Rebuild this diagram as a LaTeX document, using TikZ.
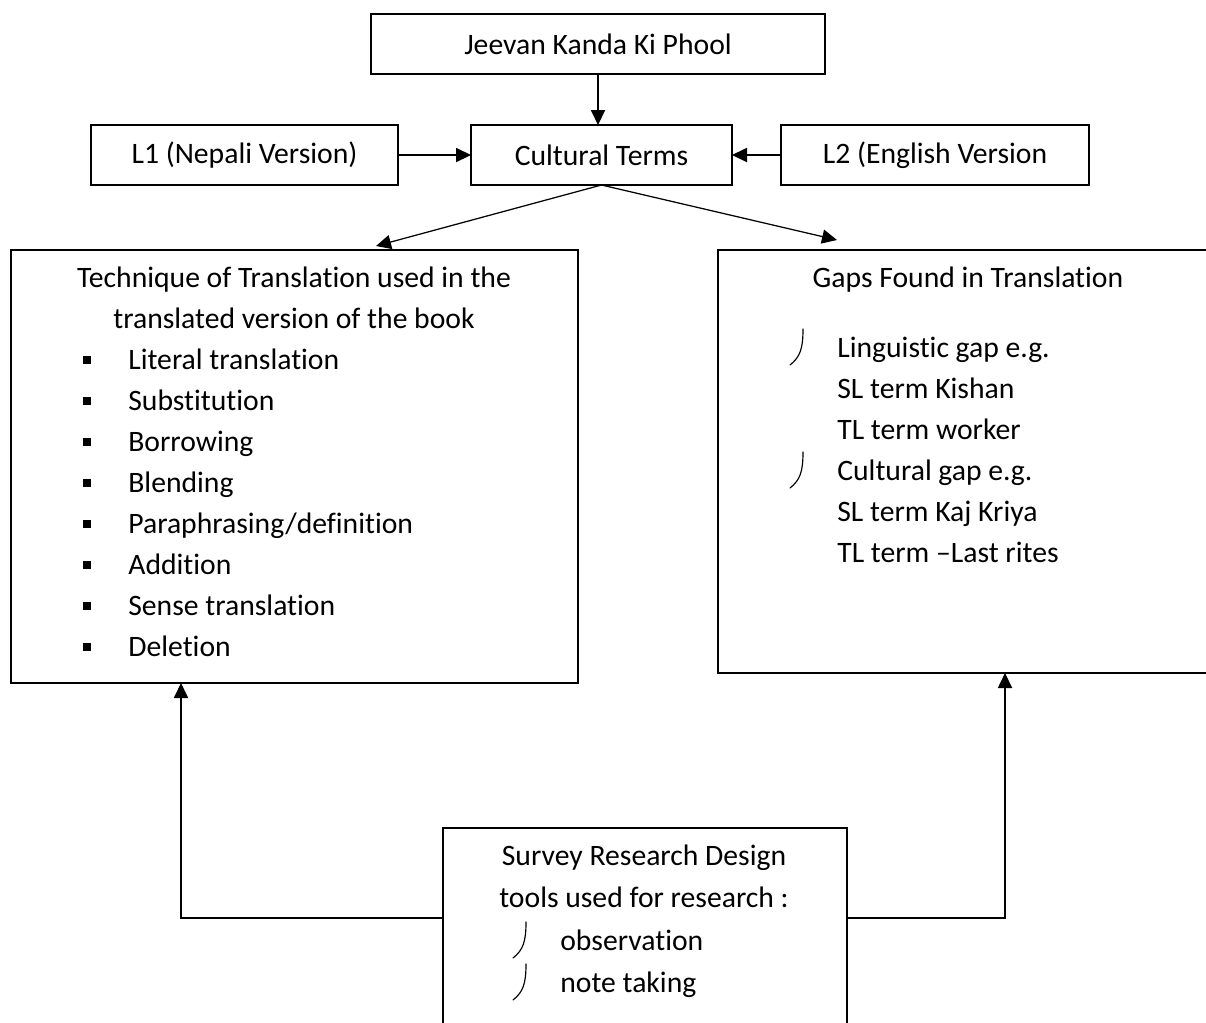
\documentclass[tikz,border=0pt]{standalone}
\usepackage{fontspec}
\setmainfont{Carlito}[Ligatures=NoCommon]
\usetikzlibrary{arrows.meta}
\newcommand\fs{\fontsize{17.8}{20}\selectfont}
\begin{document}
\begin{tikzpicture}[x=0.6pt,y=-0.6pt,
  box/.style={draw,line width=0.9pt,inner sep=0pt,outer sep=0pt,anchor=north west,font=\fs},
  arr/.style={-{Triangle[length=9pt,width=8.5pt]},line width=0.75pt},
  txt/.style={inner sep=0pt,anchor=base west,font=\fs},
  ctxt/.style={inner sep=0pt,anchor=base,font=\fs},
  hookline/.style={line width=0.7pt,line cap=round}]
\useasboundingbox (0,0) rectangle (1206,1022);
\clip (0,0) rectangle (1206,1022);

% boxes
\node[box,minimum width={454*0.6pt},minimum height={60*0.6pt}] (top) at (371,14) {Jeevan Kanda Ki Phool};
\node[box,minimum width={307*0.6pt},minimum height={60*0.6pt}] (l1) at (91,125) {L1 (Nepali Version)};
\node[box,minimum width={261*0.6pt},minimum height={60*0.6pt}] (cult) at (471,125) {Cultural Terms};
\node[box,minimum width={308*0.6pt},minimum height={60*0.6pt}] (l2) at (781,125) {L2 (English Version};
\node[box,minimum width={567*0.6pt},minimum height={433*0.6pt}] (tech) at (11,250) {};
\node[box,minimum width={520*0.6pt},minimum height={423*0.6pt}] (gaps) at (718,250) {};
\node[box,minimum width={404*0.6pt},minimum height={250*0.6pt}] (survey) at (443,828) {};

% helper coordinates
\coordinate (tl) at (376,246);
\coordinate (tr) at (837,240);
\coordinate (sy) at (0,918);
\coordinate (tx) at (181,0);
\coordinate (gx) at (1005,0);

% connectors
\draw[arr] (top.south) -- (top.south |- cult.north);
\draw[arr] (l1.east) -- (cult.west);
\draw[arr] (l2.west) -- (cult.east);
\draw[arr] (cult.south) -- (tl);
\draw[arr] (cult.south) -- (tr);
\draw[arr] (survey.west |- sy) -| (tech.south -| tx);
\draw[arr] (survey.east |- sy) -| (gaps.south -| gx);

% technique box text
\node[ctxt] (t1) at (294,287) {Technique of Translation used in the};
\node[ctxt] (t2) at (294,328) {translated version of the book};
\foreach \i/\s in {0/Literal translation,1/Substitution,2/Borrowing,3/Blending,4/Paraphrasing\slash definition,5/Addition,6/Sense translation,7/Deletion}{
  \pgfmathsetmacro\b{369+41*\i}
  \fill (83,\b-13) rectangle (91,\b-5);
  \node[txt] (ti\i) at (128,\b) {\s};
}

% gaps box text
\node[ctxt] (g0) at (968,287) {Gaps Found in Translation};
\foreach \i/\s in {0/Linguistic gap e.g.,1/SL term Kishan,2/TL term worker,3/Cultural gap e.g.,4/SL term Kaj Kriya,5/TL term \textendash Last rites}{
  \pgfmathsetmacro\b{357+41*\i}
  \node[txt] (gi\i) at (837,\b) {\s};
}
\foreach \b in {357,480}{
  \draw[hookline] (803,\b-28) .. controls (803,\b-8) and (800,\b) .. (790,\b+8);
}

% survey box text
\node[ctxt] (s1) at (644,865) {Survey Research Design};
\node[ctxt] (s2) at (644,907) {tools used for research :};
\node[txt] (s3) at (560,950) {observation};
\node[txt] (s4) at (560,992) {note taking};
\foreach \b in {950,992}{
  \draw[hookline] (526,\b-28) .. controls (526,\b-8) and (523,\b) .. (513,\b+8);
}
\end{tikzpicture}
\end{document}
